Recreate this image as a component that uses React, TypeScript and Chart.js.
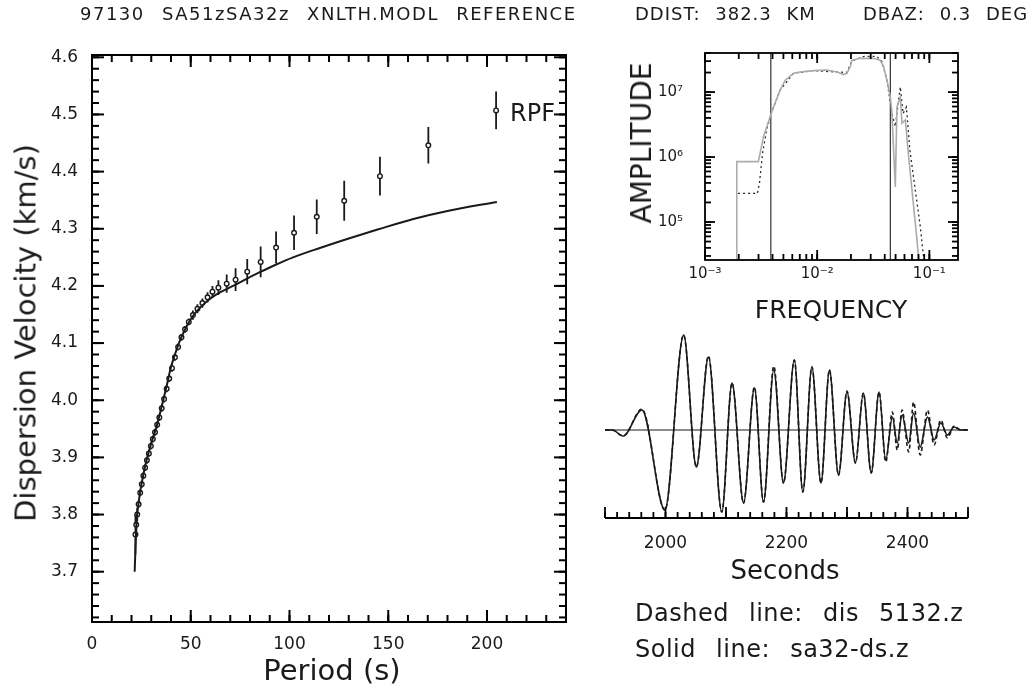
import React, { useEffect, useRef } from "react";
import { Chart, registerables } from "chart.js";

Chart.register(...registerables);

const FONT = "'DejaVu Sans', 'Noto Sans', sans-serif";
const INK = "#1a1a1a";

// ---------------- Dispersion panel data ----------------
const MODEL_PERIOD = [21.6, 22.0, 22.6, 23.5, 24.3, 26.0, 27.7, 30.0, 32.7, 35.0, 37.8, 40.0, 42.0, 44.6, 48.0, 51.0, 54.7, 60.0, 65.0, 71.4, 78.0, 85.0, 93.0, 101.8, 115.0, 130.0, 145.0, 162.7, 180.0, 205.0];
const MODEL_VELOCITY = [3.700, 3.740, 3.790, 3.818, 3.838, 3.870, 3.896, 3.925, 3.954, 3.985, 4.025, 4.058, 4.080, 4.105, 4.130, 4.147, 4.162, 4.178, 4.189, 4.200, 4.212, 4.224, 4.237, 4.250, 4.266, 4.283, 4.299, 4.317, 4.331, 4.347];

const OBS_PERIOD = [22.0, 22.4, 22.9, 23.6, 24.4, 25.2, 26.0, 26.9, 27.8, 28.8, 29.8, 30.8, 31.9, 33.0, 34.1, 35.3, 36.5, 37.8, 39.1, 40.5, 42.0, 43.6, 45.3, 47.1, 49.0, 51.1, 53.4, 55.9, 58.5, 61.0, 64.0, 68.2, 72.7, 78.6, 85.4, 93.2, 102.3, 113.8, 127.7, 145.8, 170.3];
const OBS_VELOCITY = [3.765, 3.782, 3.800, 3.818, 3.838, 3.853, 3.868, 3.882, 3.895, 3.907, 3.920, 3.932, 3.944, 3.957, 3.970, 3.986, 4.002, 4.020, 4.038, 4.056, 4.075, 4.093, 4.110, 4.124, 4.137, 4.149, 4.160, 4.170, 4.180, 4.190, 4.197, 4.204, 4.211, 4.225, 4.242, 4.267, 4.293, 4.321, 4.349, 4.392, 4.446];
const OBS_ERROR = [0.035, 0.02, 0.012, 0.006, 0.006, 0.006, 0.006, 0.006, 0.006, 0.006, 0.006, 0.006, 0.006, 0.006, 0.006, 0.006, 0.006, 0.006, 0.006, 0.006, 0.006, 0.006, 0.006, 0.006, 0.006, 0.008, 0.008, 0.008, 0.009, 0.010, 0.013, 0.016, 0.020, 0.022, 0.027, 0.028, 0.030, 0.030, 0.035, 0.034, 0.032];

const KEY_PERIOD = [204.6];
const KEY_VELOCITY = [4.507];
const KEY_ERROR = [0.033];

const PERIOD_TICKS = [0, 50, 100, 150, 200];
const VELOCITY_TICKS = [3.7, 3.8, 3.9, 4.0, 4.1, 4.2, 4.3, 4.4, 4.5, 4.6];

// ---------------- Spectrum panel data ----------------
const SPEC_OBS_FREQ = [0.00192, 0.00192, 0.00299, 0.0031, 0.00332, 0.00356, 0.00394, 0.00436, 0.00467, 0.00518, 0.00615, 0.00705, 0.00927, 0.0122, 0.0150, 0.0172, 0.0184, 0.0197, 0.0204, 0.0242, 0.0318, 0.0365, 0.0391, 0.0419, 0.0449, 0.0464, 0.0480, 0.0497, 0.0514, 0.0551, 0.0570, 0.0611, 0.0654, 0.0724, 0.0776, 0.0803];
const SPEC_OBS_AMP = [2.6e4, 8.5e5, 8.5e5, 1.15e6, 2.04e6, 2.95e6, 5.0e6, 7.9e6, 1.07e7, 1.51e7, 1.95e7, 2.04e7, 2.14e7, 2.19e7, 2.04e7, 1.86e7, 1.95e7, 2.45e7, 3.09e7, 3.31e7, 3.31e7, 3.09e7, 2.45e7, 1.51e7, 8.5e6, 4.68e6, 1.29e6, 3.47e5, 5.89e6, 8.5e6, 3.31e6, 3.72e6, 1.0e6, 1.74e5, 5.25e4, 2.6e4];

const SPEC_PRED_FREQ = [0.00197, 0.00293, 0.00306, 0.00326, 0.00356, 0.00394, 0.00467, 0.00615, 0.00927, 0.0150, 0.0184, 0.0204, 0.0263, 0.0340, 0.0378, 0.0419, 0.0464, 0.0497, 0.0532, 0.0551, 0.0583, 0.0624, 0.0670, 0.0749, 0.0830, 0.0893];
const SPEC_PRED_AMP = [2.75e5, 2.75e5, 3.98e5, 1.15e6, 2.75e6, 5.0e6, 1.07e7, 1.95e7, 2.14e7, 2.04e7, 2.0e7, 3.02e7, 3.55e7, 3.55e7, 2.95e7, 1.51e7, 4.68e6, 2.95e6, 7.6e6, 1.2e7, 4.68e6, 5.89e6, 1.29e6, 3.09e5, 8.5e4, 2.6e4];

const BAND_FREQ = [0.00386, 0.0449];
const FREQ_TICKS = [0.001, 0.01, 0.1];
const FREQ_TICK_LABELS = ["10⁻³", "10⁻²", "10⁻¹"];
const AMP_TICKS = [1e5, 1e6, 1e7];
const AMP_TICK_LABELS = ["10⁵", "10⁶", "10⁷"];

// ---------------- Waveform panel data ----------------
const WAVE_TIME = [1900, 1912, 1930, 1961, 1999, 2030, 2051, 2071, 2093, 2110, 2129, 2147, 2162, 2179, 2195, 2213, 2227, 2242, 2257, 2271, 2286, 2300, 2314, 2327, 2340, 2353, 2364, 2375, 2383, 2391, 2402, 2410, 2421, 2433, 2444, 2455, 2466, 2477, 2488, 2500];
const WAVE_SOLID = [0, 0, -0.06, 0.20, -0.80, 0.95, -0.37, 0.73, -0.82, 0.47, -0.73, 0.42, -0.72, 0.60, -0.53, 0.70, -0.62, 0.63, -0.53, 0.60, -0.45, 0.38, -0.33, 0.37, -0.43, 0.38, -0.30, 0.13, -0.13, 0.15, -0.13, 0.17, -0.17, 0.13, -0.10, 0.07, -0.05, 0.03, 0, 0];
const WAVE_DASHED = [0, 0, -0.06, 0.21, -0.80, 0.95, -0.37, 0.74, -0.82, 0.47, -0.73, 0.43, -0.72, 0.64, -0.53, 0.70, -0.62, 0.63, -0.53, 0.60, -0.45, 0.39, -0.33, 0.37, -0.43, 0.38, -0.32, 0.18, -0.20, 0.20, -0.22, 0.28, -0.25, 0.20, -0.15, 0.10, -0.08, 0.04, 0, 0];
const TIME_TICKS = [2000, 2200, 2400];

// ---------------- helpers ----------------
function steps(a: number, b: number, step: number): number[] {
  const out: number[] = [];
  const n = Math.round((b - a) / step);
  for (let i = 0; i <= n; i++) out.push(Number((a + i * step).toFixed(6)));
  return out;
}
function logSteps(lo: number, hi: number): number[] {
  const out: number[] = [];
  for (let e = Math.floor(Math.log10(lo)); e <= Math.ceil(Math.log10(hi)); e++) {
    for (let k = 1; k < 10; k++) {
      const v = k * Math.pow(10, e);
      if (v >= lo && v <= hi) out.push(v);
    }
  }
  return out;
}

type FrameCfg = {
  box: boolean;
  baseLine?: boolean;
  sides: string;
  xMajor: number[]; xMinor: number[]; yMajor: number[]; yMinor: number[];
  majorLen: number; minorLen: number; lineWidth: number; tickWidth: number;
};

function makeFrame(cfg: FrameCfg) {
  return {
    id: "axisFrame",
    afterDraw(chart: any) {
      const ctx: CanvasRenderingContext2D = chart.ctx;
      const a = chart.chartArea;
      const xs = chart.scales["x"];
      const ys = chart.scales["y"];
      const L = a.left, R = a.right, T = a.top, B = a.bottom;
      const doT = cfg.sides.indexOf("t") >= 0;
      const doB = cfg.sides.indexOf("b") >= 0;
      const doL = cfg.sides.indexOf("l") >= 0;
      const doR = cfg.sides.indexOf("r") >= 0;
      ctx.save();
      ctx.setLineDash([]);
      ctx.globalAlpha = 1;
      ctx.fillStyle = "#000000";
      const w = cfg.tickWidth;
      const rects: number[][] = [];
      const xTicks = (vals: number[], len: number) => {
        for (let i = 0; i < vals.length; i++) {
          const px = xs.getPixelForValue(vals[i]);
          if (!isFinite(px) || px < L - 1 || px > R + 1) continue;
          if (doB) rects.push([px - w / 2, B - len, w, len]);
          if (doT) rects.push([px - w / 2, T, w, len]);
        }
      };
      const yTicks = (vals: number[], len: number) => {
        for (let i = 0; i < vals.length; i++) {
          const py = ys.getPixelForValue(vals[i]);
          if (!isFinite(py) || py < T - 1 || py > B + 1) continue;
          if (doL) rects.push([L, py - w / 2, len, w]);
          if (doR) rects.push([R - len, py - w / 2, len, w]);
        }
      };
      xTicks(cfg.xMinor, cfg.minorLen);
      xTicks(cfg.xMajor, cfg.majorLen);
      yTicks(cfg.yMinor, cfg.minorLen);
      yTicks(cfg.yMajor, cfg.majorLen);
      for (const r of rects) ctx.fillRect(r[0], r[1], r[2], r[3]);
      ctx.strokeStyle = "#000000";
      ctx.lineWidth = cfg.lineWidth;
      if (cfg.box) {
        ctx.strokeRect(L, T, R - L, B - T);
      }
      if (cfg.baseLine) {
        ctx.beginPath();
        ctx.moveTo(L, B);
        ctx.lineTo(R, B);
        ctx.stroke();
      }
      ctx.restore();
    },
  };
}

function makeErrorBars(items: { index: number; errors: number[] }[], width: number) {
  return {
    id: "errorBars",
    beforeDatasetsDraw(chart: any) {
      const ctx: CanvasRenderingContext2D = chart.ctx;
      const xs = chart.scales["x"], ys = chart.scales["y"];
      ctx.save();
      ctx.strokeStyle = INK;
      ctx.lineWidth = width;
      ctx.beginPath();
      items.forEach(({ index, errors }) => {
        const data = chart.data.datasets[index].data as { x: number; y: number }[];
        data.forEach((p, i) => {
          const e = errors[i];
          if (!e) return;
          const x = xs.getPixelForValue(p.x);
          ctx.moveTo(x, ys.getPixelForValue(p.y - e));
          ctx.lineTo(x, ys.getPixelForValue(p.y + e));
        });
      });
      ctx.stroke();
      ctx.restore();
    },
  };
}

const pts = (xs: number[], ys: number[]) => xs.map((x, i) => ({ x, y: ys[i] }));

const baseTicks = (size: number, padding: number) => ({
  font: { family: FONT, size },
  color: INK,
  padding,
  maxRotation: 0,
  minRotation: 0,
  autoSkip: false,
});

function dispersionConfig(): any {
  return {
    type: "line",
    data: {
      datasets: [
        { label: "Model", data: pts(MODEL_PERIOD, MODEL_VELOCITY), borderColor: INK, borderWidth: 2, pointRadius: 0, cubicInterpolationMode: "monotone", fill: false },
        { label: "RPF", data: pts(OBS_PERIOD, OBS_VELOCITY), showLine: false, pointRadius: 2.3, pointBackgroundColor: "#fff", pointBorderColor: INK, pointBorderWidth: 1.4 },
        { label: "RPF key", data: pts(KEY_PERIOD, KEY_VELOCITY), showLine: false, pointRadius: 2.3, pointBackgroundColor: "#fff", pointBorderColor: INK, pointBorderWidth: 1.4 },
      ],
    },
    options: {
      responsive: false, animation: false, devicePixelRatio: 1,
      layout: { padding: { left: 0, top: 55, right: 34, bottom: 27 } },
      plugins: { legend: { display: false }, tooltip: { enabled: false } },
      scales: {
        x: {
          type: "linear", min: 0, max: 240,
          grid: { display: false, drawTicks: false }, border: { display: false },
          afterBuildTicks: (s: any) => { s.ticks = PERIOD_TICKS.map((value) => ({ value })); },
          afterFit: (s: any) => { s.height = 40; },
          ticks: { ...baseTicks(17, 12), callback: (v: any) => String(v) },
        },
        y: {
          type: "linear", min: 3.612, max: 4.604,
          grid: { display: false, drawTicks: false }, border: { display: false },
          afterBuildTicks: (s: any) => { s.ticks = VELOCITY_TICKS.map((value) => ({ value })); },
          afterFit: (s: any) => { s.width = 92; },
          ticks: { ...baseTicks(17, 14), callback: (v: any) => Number(v).toFixed(1) },
        },
      },
    },
    plugins: [
      makeErrorBars([{ index: 1, errors: OBS_ERROR }, { index: 2, errors: KEY_ERROR }], 1.8),
      makeFrame({
        box: true, sides: "tblr",
        xMajor: steps(0, 200, 50), xMinor: steps(0, 240, 10),
        yMajor: steps(3.7, 4.6, 0.1), yMinor: steps(3.62, 4.6, 0.02),
        majorLen: 12, minorLen: 7, lineWidth: 2, tickWidth: 2,
      }),
    ],
  };
}

function spectrumConfig(): any {
  const yMin = 2.6e4, yMax = 4e7;
  return {
    type: "line",
    data: {
      datasets: [
        { label: "observed", data: pts(SPEC_OBS_FREQ, SPEC_OBS_AMP), borderColor: "#ababab", borderWidth: 1.6, pointRadius: 0, tension: 0 },
        { label: "predicted", data: pts(SPEC_PRED_FREQ, SPEC_PRED_AMP), borderColor: "#2a2a2a", borderWidth: 1.3, borderDash: [2, 3], pointRadius: 0, tension: 0 },
        { label: "band low", data: pts([BAND_FREQ[0], BAND_FREQ[0]], [yMin, yMax]), borderColor: "#333", borderWidth: 1.2, pointRadius: 0 },
        { label: "band high", data: pts([BAND_FREQ[1], BAND_FREQ[1]], [yMin, yMax]), borderColor: "#333", borderWidth: 1.2, pointRadius: 0 },
      ],
    },
    options: {
      responsive: false, animation: false, devicePixelRatio: 1,
      layout: { padding: { left: 0, top: 53, right: 78, bottom: 50 } },
      plugins: { legend: { display: false }, tooltip: { enabled: false } },
      scales: {
        x: {
          type: "logarithmic", min: 0.001, max: 0.18,
          grid: { display: false, drawTicks: false }, border: { display: false },
          afterBuildTicks: (s: any) => { s.ticks = FREQ_TICKS.map((value) => ({ value })); },
          afterFit: (s: any) => { s.height = 30; },
          ticks: { ...baseTicks(15, 5), callback: (_v: any, i: number) => FREQ_TICK_LABELS[i] },
        },
        y: {
          type: "logarithmic", min: yMin, max: yMax,
          grid: { display: false, drawTicks: false }, border: { display: false },
          afterBuildTicks: (s: any) => { s.ticks = AMP_TICKS.map((value) => ({ value })); },
          afterFit: (s: any) => { s.width = 105; },
          ticks: { ...baseTicks(15, 22), callback: (_v: any, i: number) => AMP_TICK_LABELS[i] },
        },
      },
    },
    plugins: [
      makeFrame({
        box: true, sides: "tblr",
        xMajor: FREQ_TICKS, xMinor: logSteps(0.001, 0.18),
        yMajor: AMP_TICKS, yMinor: logSteps(yMin, yMax),
        majorLen: 10, minorLen: 6, lineWidth: 1.8, tickWidth: 1.8,
      }),
    ],
  };
}

function waveformConfig(): any {
  return {
    type: "line",
    data: {
      datasets: [
        { label: "zero", data: pts([1900, 2500], [0, 0]), borderColor: INK, borderWidth: 1.1, pointRadius: 0 },
        { label: "sa32-ds.z", data: pts(WAVE_TIME, WAVE_SOLID), borderColor: INK, borderWidth: 1.6, pointRadius: 0, cubicInterpolationMode: "monotone" },
        { label: "dis 5132.z", data: pts(WAVE_TIME, WAVE_DASHED), borderColor: INK, borderWidth: 1.6, borderDash: [4, 3], pointRadius: 0, cubicInterpolationMode: "monotone" },
      ],
    },
    options: {
      responsive: false, animation: false, devicePixelRatio: 1,
      layout: { padding: { left: 5, top: 10, right: 68, bottom: 131 } },
      plugins: { legend: { display: false }, tooltip: { enabled: false } },
      scales: {
        x: {
          type: "linear", min: 1900, max: 2500,
          grid: { display: false, drawTicks: false }, border: { display: false },
          afterBuildTicks: (s: any) => { s.ticks = TIME_TICKS.map((value) => ({ value })); },
          afterFit: (s: any) => { s.height = 40; },
          ticks: { ...baseTicks(17, 15), callback: (v: any) => String(v) },
        },
        y: { type: "linear", min: -0.88, max: 1.0, display: false },
      },
    },
    plugins: [
      makeFrame({
        box: false, baseLine: true, sides: "b",
        xMajor: steps(1900, 2500, 100), xMinor: steps(1900, 2500, 20),
        yMajor: [], yMinor: [],
        majorLen: 11, minorLen: 6, lineWidth: 1.8, tickWidth: 1.8,
      }),
    ],
  };
}

function ChartCanvas(props: { left: number; top: number; width: number; height: number; make: () => any }) {
  const ref = useRef<HTMLCanvasElement>(null);
  useEffect(() => {
    const chart = new Chart(ref.current as HTMLCanvasElement, props.make());
    return () => chart.destroy();
  }, []);
  return (
    <canvas
      ref={ref}
      width={props.width}
      height={props.height}
      style={{ position: "absolute", left: props.left, top: props.top, width: props.width, height: props.height }}
    />
  );
}

function Text(props: { x: number; y: number; size: number; text: string; anchor?: "left" | "center"; rotate?: boolean; ls?: number; ws?: number }) {
  const tx = props.anchor === "left" ? "0" : "-50%";
  return (
    <div
      style={{
        position: "absolute",
        left: props.x,
        top: props.y,
        transform: `translate(${tx}, -50%)${props.rotate ? " rotate(-90deg)" : ""}`,
        transformOrigin: props.rotate ? "center center" : undefined,
        fontFamily: FONT,
        fontSize: props.size,
        lineHeight: 1,
        whiteSpace: "pre",
        color: INK,
        letterSpacing: props.ls ?? 0,
        wordSpacing: props.ws ?? 0,
      }}
    >
      {props.text}
    </div>
  );
}

export default function App() {
  return (
    <div style={{ position: "absolute", left: 0, top: 0, width: 1036, height: 689, background: "#fff", overflow: "hidden" }}>
      <ChartCanvas left={0} top={0} width={600} height={689} make={dispersionConfig} />
      <ChartCanvas left={600} top={0} width={436} height={340} make={spectrumConfig} />
      <ChartCanvas left={600} top={320} width={436} height={369} make={waveformConfig} />

      <Text x={80} y={14} size={18} anchor="left" ls={1.5} ws={10} text="97130 SA51zSA32z XNLTH.MODL REFERENCE" />
      <Text x={635} y={14} size={18} anchor="left" ls={1} ws={8} text="DDIST: 382.3 KM" />
      <Text x={863} y={14} size={18} anchor="left" ls={1} ws={8} text="DBAZ: 0.3 DEG" />

      <Text x={26} y={333} size={29} rotate text="Dispersion Velocity (km/s)" />
      <Text x={332} y={670} size={29} text="Period (s)" />
      <Text x={510} y={113} size={24} anchor="left" text="RPF" />

      <Text x={642} y={143} size={28} rotate text="AMPLITUDE" />
      <Text x={831} y={309} size={25} text="FREQUENCY" />

      <Text x={785} y={570} size={26} text="Seconds" />
      <Text x={635} y={613} size={24} anchor="left" ls={0.5} ws={12} text="Dashed line: dis 5132.z" />
      <Text x={635} y={649} size={24} anchor="left" ls={0.5} ws={12} text="Solid line: sa32-ds.z" />
    </div>
  );
}
